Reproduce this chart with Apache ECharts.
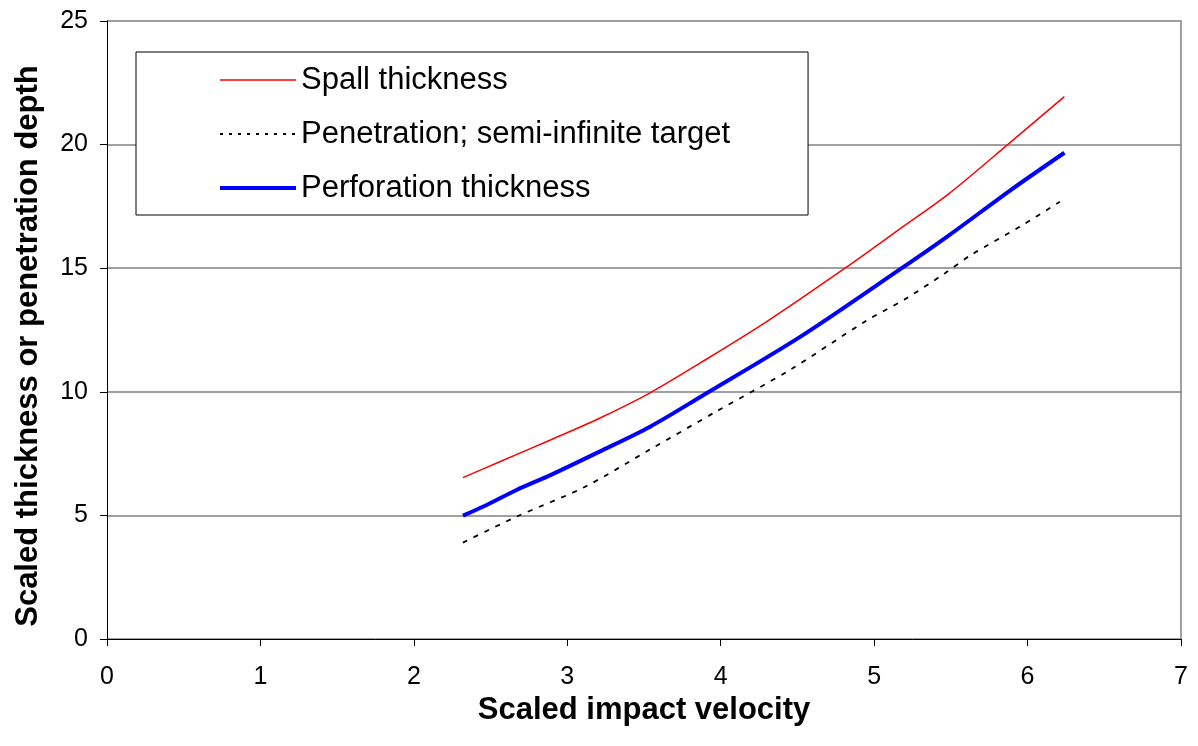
<!DOCTYPE html>
<html>
<head>
<meta charset="utf-8">
<script src="https://cdn.jsdelivr.net/npm/echarts@6/dist/echarts.min.js"></script>
<style>html,body{margin:0;padding:0;background:#fff;}#c{width:1198px;height:746px;}</style>
</head>
<body>
<div id="c"></div>
<script>
var spallX = [2.32, 2.56, 2.89, 3.21, 3.54, 3.87, 4.30, 4.81, 5.17, 5.49, 5.88, 6.24];
var spallY = [6.53, 7.17, 8.05, 8.93, 9.96, 11.18, 12.84, 15.0, 16.6, 18.03, 20.05, 21.94];
var penX = [2.32, 2.67, 3.11, 3.54, 3.97, 4.45, 4.95, 5.20, 5.46, 5.63, 5.95, 6.21];
var penY = [3.90, 4.95, 6.14, 7.67, 9.20, 10.88, 12.88, 13.74, 14.79, 15.53, 16.68, 17.69];
var perfX = [2.32, 2.45, 2.67, 2.89, 3.21, 3.54, 3.87, 4.52, 5.17, 5.49, 5.89, 6.24];
var perfY = [4.99, 5.35, 6.03, 6.63, 7.58, 8.59, 9.80, 12.23, 14.96, 16.34, 18.16, 19.67];
var seriesNames = ['Spall thickness', 'Penetration; semi-infinite target', 'Perforation thickness'];
var xTitle = 'Scaled impact velocity';
var yTitle = 'Scaled thickness or penetration depth';

function pairs(xs, ys) { return xs.map(function (x, i) { return [x, ys[i]]; }); }

var chart = echarts.init(document.getElementById('c'));
var font = 'Liberation Sans, Arial, sans-serif';
var redStyle = { color: '#ff0000', width: 1.5 };
var penStyle = { color: '#000000', width: 1.8, type: [5, 7] };
var blueStyle = { color: '#0000ff', width: 4 };
chart.setOption({
  animation: false,
  backgroundColor: '#fff',
  grid: { left: 107, right: 17, top: 21, bottom: 107 },
  legend: {
    orient: 'vertical',
    left: 136, top: 52,
    padding: [11, 78, 10, 82],
    borderColor: '#000', borderWidth: 1,
    backgroundColor: '#fff',
    itemWidth: 76, itemHeight: 34, itemGap: 20,
    itemStyle: { opacity: 0 },
    textStyle: { fontFamily: font, fontSize: 31, color: '#000', lineHeight: 34 },
    data: [
      { name: seriesNames[0], lineStyle: { width: 1.5 } },
      { name: seriesNames[1], lineStyle: { width: 2, type: [3, 6] } },
      { name: seriesNames[2], lineStyle: { width: 4 } }
    ]
  },
  xAxis: {
    type: 'value', min: 0, max: 7, interval: 1,
    name: xTitle, nameLocation: 'middle', nameGap: 50,
    nameTextStyle: { fontFamily: font, fontSize: 31, fontWeight: 'bold', color: '#000' },
    axisLine: { show: true, lineStyle: { color: '#000', width: 1 } },
    axisTick: { show: true, inside: false, length: 7, lineStyle: { color: '#000' } },
    axisLabel: { fontFamily: font, fontSize: 25, color: '#000', margin: 26 },
    splitLine: { show: false }
  },
  yAxis: [{
    type: 'value', min: 0, max: 25, interval: 5,
    name: yTitle, nameLocation: 'middle', nameGap: 63,
    nameTextStyle: { fontFamily: font, fontSize: 31, fontWeight: 'bold', color: '#000', padding: [0, 32, 0, 0] },
    axisLine: { show: true, lineStyle: { color: '#000', width: 1 } },
    axisTick: { show: true, inside: false, length: 7, lineStyle: { color: '#000' } },
    axisLabel: { fontFamily: font, fontSize: 25, color: '#000', margin: 19 },
    splitLine: { show: true, lineStyle: { color: '#808080', width: 1.5 } }
  }, {
    type: 'value', min: 0, max: 25, interval: 5, position: 'right',
    axisLine: { show: true, lineStyle: { color: '#808080', width: 1.5 } },
    axisTick: { show: false }, axisLabel: { show: false }, splitLine: { show: false }
  }],
  series: [{
    name: seriesNames[0], type: 'line', symbol: 'none', smooth: 0.3,
    lineStyle: redStyle, itemStyle: { color: '#ff0000' },
    data: pairs(spallX, spallY)
  }, {
    name: seriesNames[1], type: 'line', symbol: 'none', smooth: 0.3,
    lineStyle: penStyle, itemStyle: { color: '#000000' },
    data: pairs(penX, penY)
  }, {
    name: seriesNames[2], type: 'line', symbol: 'none', smooth: 0.3,
    lineStyle: blueStyle, itemStyle: { color: '#0000ff' },
    data: pairs(perfX, perfY)
  }]
});
</script>
</body>
</html>
